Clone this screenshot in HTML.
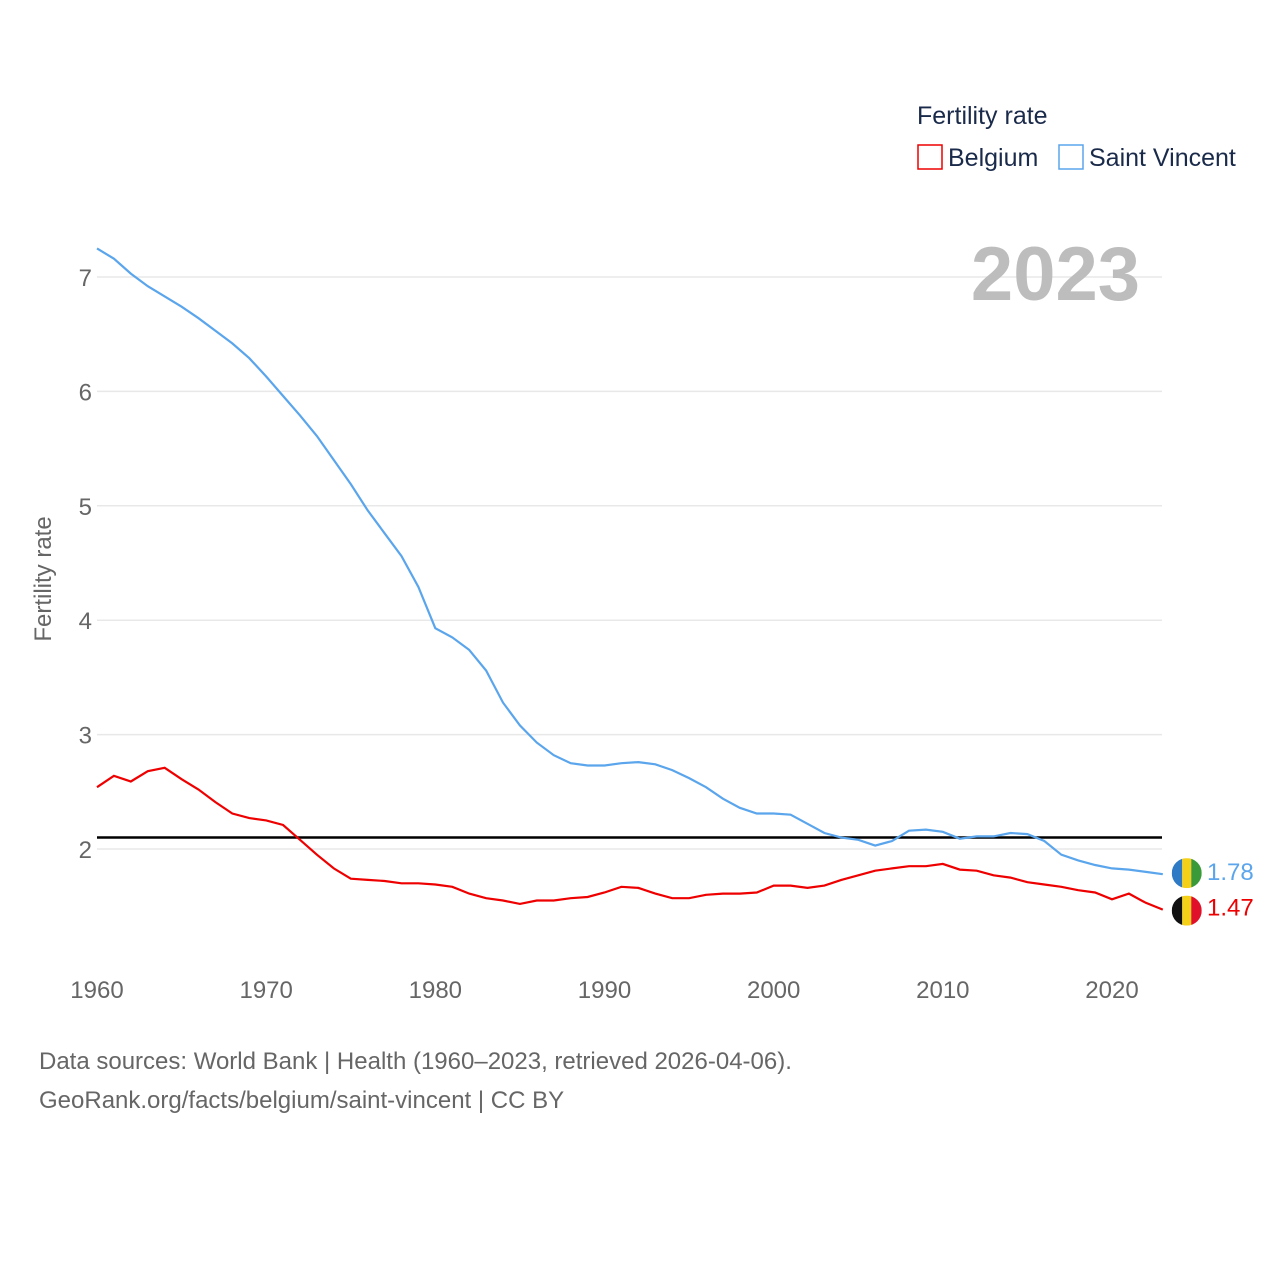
<!DOCTYPE html>
<html><head><meta charset="utf-8">
<style>
body{margin:0;background:#fff;font-family:"Liberation Sans",sans-serif;}
#wrap{position:relative;width:1280px;height:1280px;overflow:hidden;}
</style></head>
<body><div id="wrap">
<svg id="chart" width="1280" height="1280"></svg>
</div>
<script>
const years=[];for(let y=1960;y<=2023;y++)years.push(y);
const saintVincent=[7.25,7.16,7.03,6.92,6.83,6.74,6.64,6.53,6.42,6.29,6.13,5.96,5.79,5.61,5.40,5.19,4.96,4.76,4.56,4.29,3.93,3.85,3.74,3.56,3.28,3.08,2.93,2.82,2.75,2.73,2.73,2.75,2.76,2.74,2.69,2.62,2.54,2.44,2.36,2.31,2.31,2.30,2.22,2.14,2.10,2.08,2.03,2.07,2.16,2.17,2.15,2.09,2.11,2.11,2.14,2.13,2.07,1.95,1.90,1.86,1.83,1.82,1.80,1.78];
const belgium=[2.54,2.64,2.59,2.68,2.71,2.61,2.52,2.41,2.31,2.27,2.25,2.21,2.08,1.95,1.83,1.74,1.73,1.72,1.70,1.70,1.69,1.67,1.61,1.57,1.55,1.52,1.55,1.55,1.57,1.58,1.62,1.67,1.66,1.61,1.57,1.57,1.60,1.61,1.61,1.62,1.68,1.68,1.66,1.68,1.73,1.77,1.81,1.83,1.85,1.85,1.87,1.82,1.81,1.77,1.75,1.71,1.69,1.67,1.64,1.62,1.56,1.61,1.53,1.47];
const yTicks=[2,3,4,5,6,7];
const xTicks=[1960,1970,1980,1990,2000,2010,2020];
const replacement=2.1;
const NS="http://www.w3.org/2000/svg";
const svg=document.getElementById('chart');
const xs=y=>97+(y-1960)*(1015/60);
const ys=v=>849-(v-2)*114.4;
function mk(tag,attrs,parent){const e=document.createElementNS(NS,tag);for(const k in attrs)e.setAttribute(k,attrs[k]);(parent||svg).appendChild(e);return e;}
function txt(s,attrs){const e=mk('text',attrs);e.textContent=s;return e;}
yTicks.forEach(v=>{
 const g=mk('line',{x1:97,x2:1162,y1:ys(v),y2:ys(v),stroke:'#e8e8e8','stroke-width':1.5});
 
 
 const t=txt(String(v),{x:92,y:ys(v)+9,'text-anchor':'end','font-size':24,fill:'#666'});
 
 
});
xTicks.forEach(v=>{
 const t=txt(String(v),{x:xs(v),y:998,'text-anchor':'middle','font-size':24,fill:'#666'});
 
 
});
const yt=txt('Fertility rate',{x:0,y:0,transform:'translate(51,579) rotate(-90)','text-anchor':'middle','font-size':24,fill:'#666'});


const rl=mk('line',{x1:97,x2:1162,y1:ys(replacement),y2:ys(replacement),stroke:'#000','stroke-width':2.5});


function series(arr,color,name){
 const d=arr.map((v,i)=>(i?'L':'M')+xs(years[i]).toFixed(1)+','+ys(v).toFixed(1)).join('');
 const p=mk('path',{d:d,fill:'none',stroke:color,'stroke-width':2.2});
 
 
}
series(saintVincent,'#5aa5ec','saint-vincent');
series(belgium,'#ee0000','belgium');
const lastSV=saintVincent[saintVincent.length-1],lastBE=belgium[belgium.length-1];
const xe=xs(2023)+24;
const defs=mk('defs',{});
function flag(id,cy,cols,name){
 const cp=mk('clipPath',{id:id},defs);
 mk('circle',{cx:xe,cy:cy,r:15},cp);
 const g=mk('g',{'clip-path':'url(#'+id+')'});
 
 
 mk('rect',{x:xe-15,y:cy-15,width:10.5,height:30,fill:cols[0]},g);
 mk('rect',{x:xe-4.5,y:cy-15,width:9,height:30,fill:cols[1]},g);
 mk('rect',{x:xe+4.5,y:cy-15,width:10.5,height:30,fill:cols[2]},g);
}
flag('cpsv',ys(lastSV)-1,['#2e7ac4','#f5d018','#3a9a3a'],'saint-vincent-flag');
flag('cpbe',ys(lastBE)+1,['#111','#f5d018','#e0102a'],'belgium-flag');
let t=txt(lastSV.toFixed(2),{x:1207,y:ys(lastSV)+6,'font-size':24,fill:'#5aa5ec'});


t=txt(lastBE.toFixed(2),{x:1207,y:ys(lastBE)+6,'font-size':24,fill:'#ee0000'});


t=txt('2023',{x:1140,y:300,'text-anchor':'end','font-size':76,'font-weight':'bold',fill:'#bdbdbd'});


t=txt('Fertility rate',{x:917,y:124,'font-size':25,fill:'#1a2a4a'});


let r=mk('rect',{x:918,y:145,width:24,height:24,fill:'none',stroke:'#ee0000','stroke-width':1.5});


t=txt('Belgium',{x:948,y:166,'font-size':25,fill:'#1a2a4a'});


r=mk('rect',{x:1059,y:145,width:24,height:24,fill:'none',stroke:'#5aa5ec','stroke-width':1.5});


t=txt('Saint Vincent',{x:1089,y:166,'font-size':25,fill:'#1a2a4a'});


t=txt('Data sources: World Bank | Health (1960–2023, retrieved 2026-04-06).',{x:39,y:1069,'font-size':24,fill:'#666'});


t=txt('GeoRank.org/facts/belgium/saint-vincent | CC BY',{x:39,y:1108,'font-size':24,fill:'#666'});


</script>
</body></html>
